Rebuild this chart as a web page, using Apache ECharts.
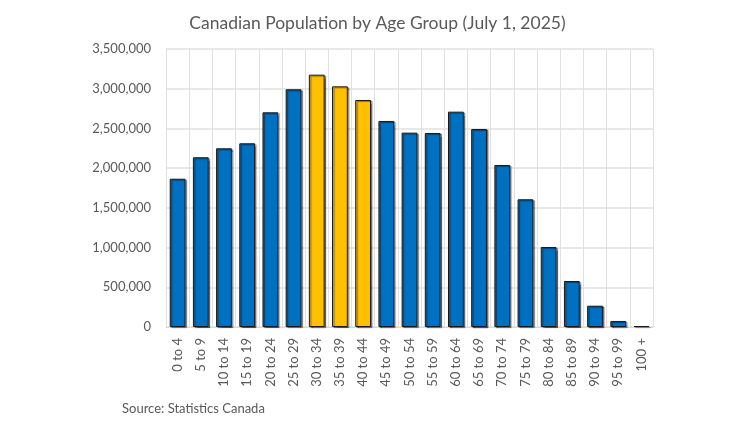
<!DOCTYPE html>
<html><head><meta charset="utf-8">
<script src="https://cdn.jsdelivr.net/npm/echarts@6/dist/echarts.min.js"></script>
<style>html,body{margin:0;padding:0;background:#fff}#c{width:755px;height:422px}</style>
</head><body><div id="c"></div>
<script>
var categories = ['0 to 4','5 to 9','10 to 14','15 to 19','20 to 24','25 to 29','30 to 34','35 to 39','40 to 44','45 to 49','50 to 54','55 to 59','60 to 64','65 to 69','70 to 74','75 to 79','80 to 84','85 to 89','90 to 94','95 to 99','100 +'];
var population = [1867000,2137000,2250000,2313000,2703000,2993000,3177000,3030000,2858000,2594000,2447000,2443000,2711000,2493000,2040000,1608000,1007000,579000,268000,76000,12000];
var highlighted = ['30 to 34','35 to 39','40 to 44'];
var yTicks = {min:0, max:3500000, interval:500000};

var FONT = 'Lato, "Open Sans", sans-serif';
var chart = echarts.init(document.getElementById('c'));
chart.setOption({
  animation:false,
  title:{text:'Canadian Population by Age Group (July 1, 2025)', left:'center', top:9,
    textStyle:{fontFamily:FONT, fontSize:17.5, fontWeight:'normal', color:'#595959'}},
  graphic:[{type:'text', left:122, top:402, style:{text:'Source: Statistics Canada', fontFamily:FONT, fontSize:13, fill:'#595959'}}],
  grid:{left:166, right:102, top:49, bottom:95},
  xAxis:{type:'category', data:categories,
    axisLine:{show:true, lineStyle:{color:'#d9d9d9'}}, axisTick:{show:false},
    splitLine:{show:true, lineStyle:{color:'#e0e0e0', width:1}},
    axisLabel:{rotate:90, interval:0, fontFamily:FONT, fontSize:13, color:'#595959', margin:11}},
  yAxis:{type:'value', min:yTicks.min, max:yTicks.max, interval:yTicks.interval,
    axisLine:{show:false}, axisTick:{show:false},
    splitLine:{lineStyle:{color:'#e0e0e0', width:1.5}},
    axisLabel:{fontFamily:FONT, fontSize:13, color:'#595959', margin:15,
      formatter:function(v){return v.toLocaleString('en-US');}}},
  series:[{type:'bar', barCategoryGap:'32%',
    data:population.map(function(v,i){
      var hl = highlighted.indexOf(categories[i])>=0;
      return {value:v, itemStyle:{color: hl ? '#FFC000' : '#0070C0'}};
    }),
    itemStyle:{borderColor:'#1a1a1a', borderWidth:1, shadowColor:'rgba(0,0,0,0.45)', shadowBlur:1, shadowOffsetX:1.5, shadowOffsetY:1}
  }]
});
</script></body></html>
